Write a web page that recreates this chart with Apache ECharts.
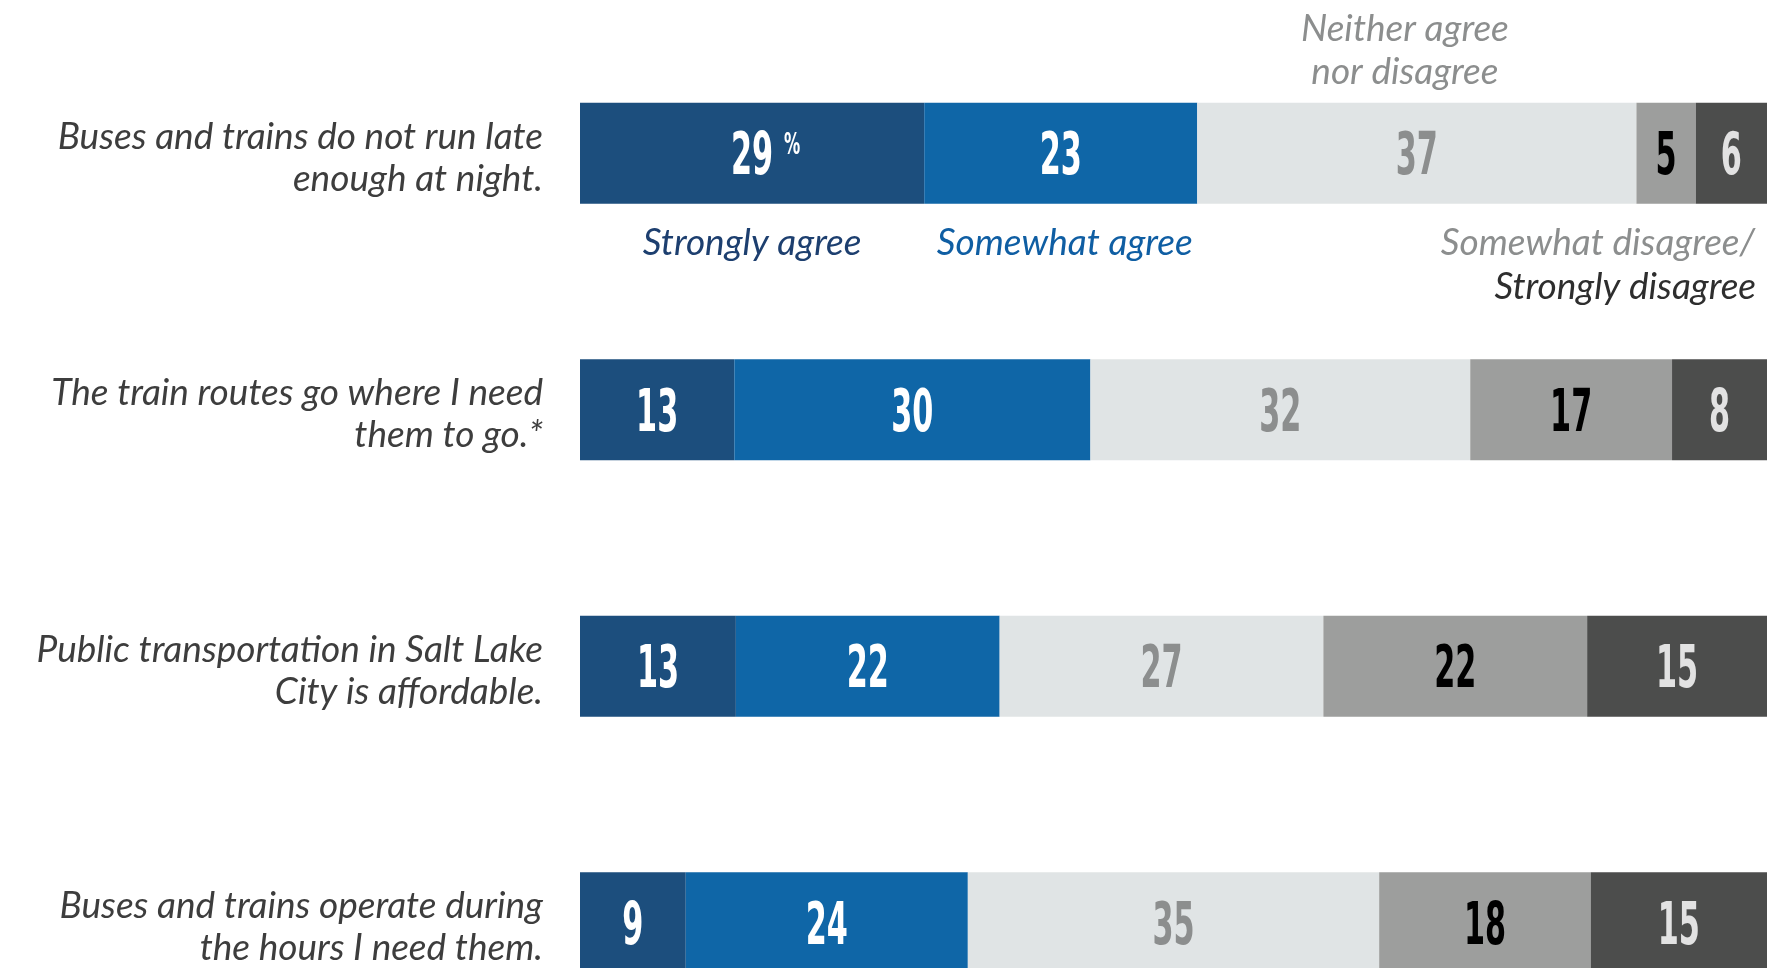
<!DOCTYPE html>
<html>
<head>
<meta charset="utf-8">
<script src="https://cdn.jsdelivr.net/npm/echarts@6/dist/echarts.min.js"></script>
<style>
html, body { margin: 0; padding: 0; background: #fff; overflow: hidden; }
#chart { width: 1767px; height: 1060px; }
</style>
</head>
<body>
<div id="chart"></div>
<script>
// statements (y categories)
const statements = [
  'Buses and trains do not run late\nenough at night.',
  'The train routes go where I need\nthem to go.*',
  'Public transportation in Salt Lake\nCity is affordable.',
  'Buses and trains operate during\nthe hours I need them.'
];
const levels = ['Strongly agree', 'Somewhat agree', 'Neither agree nor disagree', 'Somewhat disagree', 'Strongly disagree'];

// percentages as printed in the bars
const stronglyAgree = [29, 13, 13, 9];
const somewhatAgree = [23, 30, 22, 24];
const neither = [37, 32, 27, 35];
const somewhatDisagree = [5, 17, 22, 18];
const stronglyDisagree = [6, 8, 15, 15];

const allSeries = [stronglyAgree, somewhatAgree, neither, somewhatDisagree, stronglyDisagree];
const barColors = ['#1c4e7d', '#0f66a7', '#e0e4e5', '#9d9e9d', '#4c4d4c'];
const numColors = ['#ffffff', '#ffffff', '#8c8e8e', '#000000', '#e2e2e2'];

// each bar fills the full width (rounded values don't always add to 100)
const totals = statements.map((s, i) => allSeries.reduce((acc, arr) => acc + arr[i], 0));

const chart = echarts.init(document.getElementById('chart'));

const numFont = '"DejaVu Sans Condensed", "Liberation Sans Narrow", "DejaVu Sans", sans-serif';
const txtFont = 'Lato, "Open Sans", sans-serif';

const barSeries = allSeries.map((arr, k) => ({
  name: levels[k],
  type: 'bar',
  stack: 'total',
  barWidth: 101,
  itemStyle: { color: barColors[k] },
  emphasis: { disabled: true },
  data: arr.map((v, i) => v / totals[i] * 100)
}));

// label points: centre of each segment, [x, row, printed value, level]
const labelData = [];
statements.forEach((s, i) => {
  let cum = 0;
  allSeries.forEach((arr, k) => {
    const w = arr[i] / totals[i] * 100;
    labelData.push([cum + w / 2, i, arr[i], k]);
    cum += w;
  });
});

// condensed numbers, squeezed horizontally like the original typeface
const labelSeries = {
  type: 'custom',
  silent: true,
  z: 10,
  encode: { x: 0, y: 1 },
  data: labelData,
  renderItem: function (params, api) {
    const pt = api.coord([api.value(0), api.value(1)]);
    const k = api.value(3);
    const children = [{
      type: 'text',
      x: pt[0], y: pt[1] + 6, scaleX: 0.58,
      style: {
        text: String(api.value(2)),
        fill: numColors[k],
        fontFamily: numFont, fontWeight: 'bold', fontSize: 58,
        align: 'center', verticalAlign: 'middle'
      }
    }];
    if (params.dataIndex === 0) {
      children.push({
        type: 'text',
        x: pt[0] + 32, y: pt[1] - 7, scaleX: 0.6,
        style: {
          text: '%', fill: numColors[k],
          fontFamily: numFont, fontWeight: 'bold', fontSize: 30,
          align: 'left', verticalAlign: 'middle'
        }
      });
    }
    return { type: 'group', children: children };
  }
};

chart.setOption({
  animation: false,
  grid: { left: 580, right: 0, top: 25, height: 1026, containLabel: false, outerBoundsMode: 'none' },
  xAxis: { type: 'value', min: 0, max: 100, show: false },
  yAxis: {
    type: 'category',
    inverse: true,
    data: statements,
    axisLine: { show: false },
    axisTick: { show: false },
    axisLabel: {
      margin: 37,
      align: 'right',
      fontFamily: txtFont,
      fontStyle: 'italic',
      fontSize: 37,
      lineHeight: 42,
      color: '#3d3d3d',
      // a thin empty first line nudges the block a little below the bar centre
      formatter: function (v) { return '{gap|}\n' + v; },
      rich: { gap: { lineHeight: 9, fontSize: 1 } }
    }
  },
  series: barSeries.concat([labelSeries])
});

// annotations placed around the first bar
const row0 = statements[0];
const row0Centers = labelData.filter(d => d[1] === 0).map(d => d[0]);
const mid = chart.convertToPixel({ gridIndex: 0 }, [0, row0]);
const barTop = mid[1] - 50.5;
const barBottom = mid[1] + 50.5;
const xAt = (v) => chart.convertToPixel({ gridIndex: 0 }, [v, row0])[0];
const rightEdge = xAt(100);

const annStyle = { fontFamily: txtFont, fontStyle: 'italic', fontSize: 37, lineHeight: 43 };

chart.setOption({
  graphic: [
    { type: 'text', x: xAt(row0Centers[2]) - 12, y: barTop - 9,
      style: Object.assign({}, annStyle, { text: 'Neither agree\nnor disagree', fill: '#8c8e8e', align: 'center', verticalAlign: 'bottom' }) },
    { type: 'text', x: xAt(row0Centers[0]), y: barBottom + 39,
      style: Object.assign({}, annStyle, { text: 'Strongly agree', fill: '#1d3f6f', align: 'center', verticalAlign: 'middle' }) },
    { type: 'text', x: xAt(row0Centers[1]) + 4, y: barBottom + 39,
      style: Object.assign({}, annStyle, { text: 'Somewhat agree', fill: '#0f5ea3', align: 'center', verticalAlign: 'middle' }) },
    { type: 'text', x: rightEdge - 12, y: barBottom + 39,
      style: Object.assign({}, annStyle, { text: 'Somewhat disagree/', fill: '#8c8e8e', align: 'right', verticalAlign: 'middle' }) },
    { type: 'text', x: rightEdge - 11, y: barBottom + 83,
      style: Object.assign({}, annStyle, { text: 'Strongly disagree', fill: '#2e2e2e', align: 'right', verticalAlign: 'middle' }) }
  ]
});
</script>
</body>
</html>
